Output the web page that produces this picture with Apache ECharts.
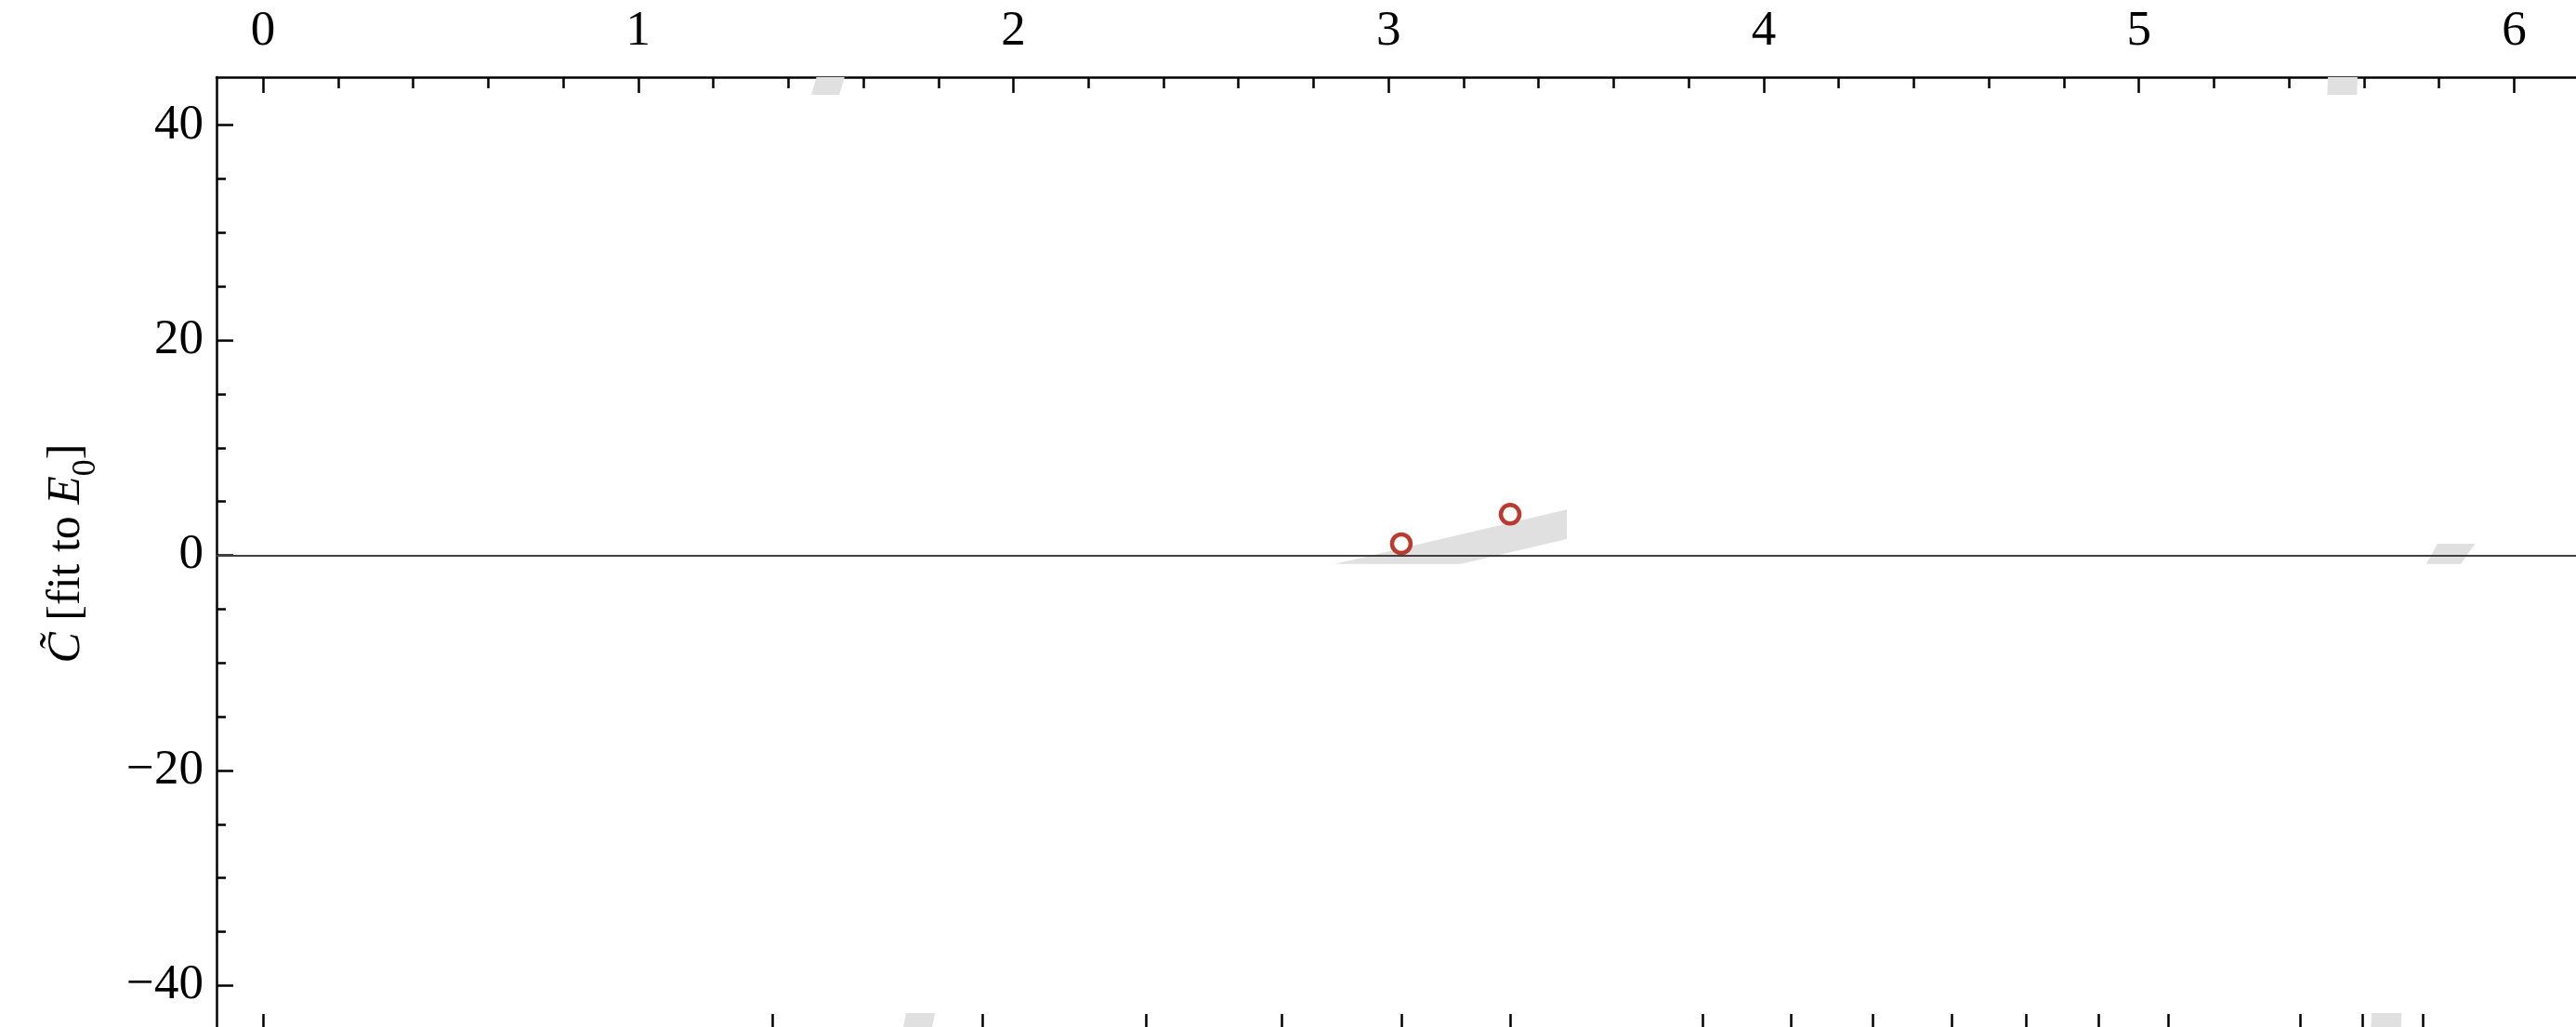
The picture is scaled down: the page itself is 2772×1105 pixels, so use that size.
<!DOCTYPE html>
<html>
<head>
<meta charset="utf-8">
<title>C fit to E0</title>
<script src="https://cdn.jsdelivr.net/npm/echarts@6/dist/echarts.min.js"></script>
<style>
  html, body { margin: 0; padding: 0; background: #ffffff; }
  #chart { width: 2772px; height: 1105px; }
</style>
</head>
<body>
<div id="chart"></div>
<script>
// Axis ranges
const xRange = [-0.124, 6.165];
const yRange = [-44.12, 44.47];

// Top axis: labelled ticks and minor ticks
const topMajorTicks = [0, 1, 2, 3, 4, 5, 6];
const topMinorTicks = [0.2, 0.4, 0.6, 0.8, 1.2, 1.4, 1.6, 1.8, 2.2, 2.4, 2.6, 2.8,
  3.2, 3.4, 3.6, 3.8, 4.2, 4.4, 4.6, 4.8, 5.2, 5.4, 5.6, 5.8, 6.0];

// Bottom axis tick marks (unlabelled level positions)
const bottomTicks = [0, 1.357, 1.917, 2.353, 2.715, 3.034, 3.324, 3.837, 4.072,
  4.290, 4.501, 4.699, 4.892, 5.078, 5.430, 5.596, 5.757];

// Left axis ticks
const yMajorTicks = [-40, -20, 0, 20, 40];
const yMinorTicks = [-35, -30, -25, -15, -10, -5, 5, 10, 15, 25, 30, 35];

// Fit points
const fitPoints = [[3.034, 1.08], [3.324, 3.82]];

// Uncertainty bands (polygon vertices, data units)
const bandCentral = [[2.858, -0.80], [3.475, 4.25], [3.475, 1.51], [3.193, -0.80]];
const bandRight = [[5.766, -0.80], [5.796, 1.08], [5.896, 1.08], [5.858, -0.80]];
const bandTopLeft = [[1.4615, 42.83], [1.488, 46], [1.563, 46], [1.536, 42.83]];
const bandTopRight = [[5.502, 42.83], [5.505, 46], [5.584, 46], [5.581, 42.83]];
const bandBottomLeft = [[1.695, -46], [1.714, -42.57], [1.791, -42.57], [1.771, -46]];
const bandBottomRight = [[5.617, -46], [5.620, -42.57], [5.700, -42.57], [5.697, -46]];
const bands = [bandCentral, bandRight, bandTopLeft, bandTopRight, bandBottomLeft, bandBottomRight];

const FONT = '"Liberation Serif", "Times New Roman", serif';
const INK = '#000000';

const chart = echarts.init(document.getElementById('chart'), null, { renderer: 'canvas' });

const minus = v => (v < 0 ? '\u2212' + Math.abs(v) : String(v));

// shared pieces for the frame axes
const tickStyle = { color: INK, width: 2.5 };
const hiddenLine = { show: false, onZero: false };

const option = {
  backgroundColor: '#ffffff',
  animation: false,
  grid: {
    left: 233, top: 83, right: 0, bottom: -3,
    containLabel: false,
    outerBoundsMode: 'none'
  },
  xAxis: [
    {
      type: 'value', position: 'top', min: xRange[0], max: xRange[1],
      splitLine: { show: false },
      axisLine: { show: true, onZero: false, lineStyle: { color: INK, width: 2.5 } },
      axisTick: { show: true, inside: true, length: 17, customValues: topMajorTicks,
        lineStyle: tickStyle },
      axisLabel: { show: true, customValues: topMajorTicks, margin: 22,
        fontFamily: FONT, fontSize: 53, color: INK }
    },
    {
      type: 'value', position: 'top', min: xRange[0], max: xRange[1],
      splitLine: { show: false },
      axisLine: hiddenLine,
      axisTick: { show: true, inside: true, length: 12, customValues: topMinorTicks,
        lineStyle: tickStyle },
      axisLabel: { show: false }
    },
    {
      type: 'value', position: 'bottom', min: xRange[0], max: xRange[1],
      splitLine: { show: false },
      axisLine: hiddenLine,
      axisTick: { show: true, inside: true, length: 17, customValues: bottomTicks,
        lineStyle: tickStyle },
      axisLabel: { show: false }
    }
  ],
  yAxis: [
    {
      type: 'value', position: 'left', min: yRange[0], max: yRange[1],
      splitLine: { show: false },
      axisLine: { show: true, onZero: false, lineStyle: { color: INK, width: 2.5 } },
      axisTick: { show: true, inside: true, length: 18, customValues: yMajorTicks,
        lineStyle: tickStyle },
      axisLabel: { show: true, customValues: yMajorTicks, margin: 14,
        fontFamily: FONT, fontSize: 53, color: INK, formatter: minus },
      name: '{i|C\u0303} [fit to {i|E}{sub|0}]',
      nameLocation: 'middle',
      nameRotate: 90,
      nameGap: 136,
      nameTextStyle: {
        fontFamily: FONT, fontSize: 50, color: INK,
        rich: {
          i: { fontFamily: FONT, fontSize: 50, fontStyle: 'italic', color: INK },
          sub: { fontFamily: FONT, fontSize: 36, color: INK, verticalAlign: 'bottom',
            padding: [0, 0, -14, 0] }
        }
      }
    },
    {
      type: 'value', position: 'left', min: yRange[0], max: yRange[1],
      splitLine: { show: false },
      axisLine: hiddenLine,
      axisTick: { show: true, inside: true, length: 10, customValues: yMinorTicks,
        lineStyle: tickStyle },
      axisLabel: { show: false }
    }
  ],
  series: [
    {
      // zero reference line
      type: 'line', xAxisIndex: 0, yAxisIndex: 0, data: [], z: 1,
      markLine: {
        silent: true, symbol: ['none', 'none'], label: { show: false },
        lineStyle: { color: '#404040', width: 1.8, type: 'solid' },
        data: [{ yAxis: 0 }]
      }
    },
    {
      type: 'custom', xAxisIndex: 0, yAxisIndex: 0, z: 2, clip: true, silent: true,
      data: bands.map((b, i) => [i]),
      renderItem: function (params, api) {
        const poly = bands[params.dataIndex].map(p => api.coord(p));
        return {
          type: 'polygon',
          shape: { points: poly },
          style: { fill: '#e0e0e0', stroke: null }
        };
      }
    },
    {
      type: 'scatter', xAxisIndex: 0, yAxisIndex: 0, z: 3,
      data: fitPoints,
      symbol: 'circle', symbolSize: 20,
      itemStyle: { color: '#ffffff', borderColor: '#bb3a30', borderWidth: 4.5, opacity: 1 }
    }
  ]
};

chart.setOption(option);
</script>
</body>
</html>
